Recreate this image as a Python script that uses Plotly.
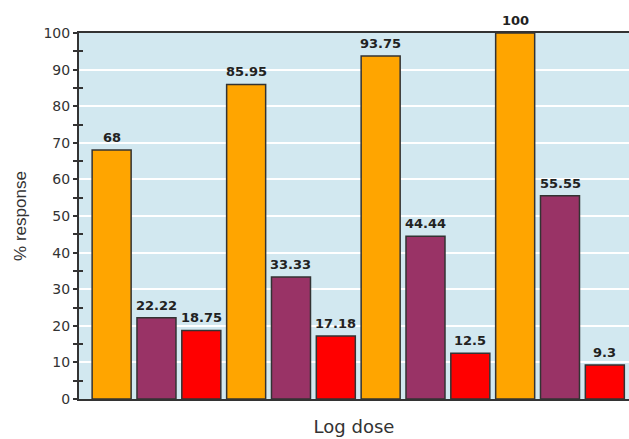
import plotly.graph_objects as go

groups = ["D1", "D2", "D3", "D4"]
series_names = ["Series A", "Series B", "Series C"]
series_values = [
    [68, 85.95, 93.75, 100],
    [22.22, 33.33, 44.44, 55.55],
    [18.75, 17.18, 12.5, 9.3],
]
series_colors = ["#FFA500", "#993366", "#FF0000"]
y_ticks = list(range(0, 101, 10))
y_minor = list(range(5, 100, 10))

fig = go.Figure()
for name, vals, col in zip(series_names, series_values, series_colors):
    fig.add_trace(go.Bar(
        x=groups, y=vals, name=name,
        marker=dict(color=col, line=dict(color="#333333", width=1.5)),
        cliponaxis=False,
    ))

annotations = []
n = len(series_values)
for j, vals in enumerate(series_values):
    for i, v in enumerate(vals):
        annotations.append(dict(
            x=i + (j - (n - 1) / 2) / n, y=v, xref="x", yref="y",
            text=f"<b>{v:g}</b>", showarrow=False, yanchor="bottom", yshift=3,
            font=dict(family="DejaVu Sans", size=13, color="#222222"),
        ))

fig.update_layout(
    width=629, height=439,
    margin=dict(l=79, r=0, t=33, b=40, autoexpand=False),
    paper_bgcolor="white", plot_bgcolor="#D2E8F0",
    barmode="group", bargap=0.0, bargroupgap=0.13,
    showlegend=False,
    annotations=annotations,
    xaxis=dict(
        type="category", range=[-0.576, 3.513], automargin=False,
        showticklabels=False, ticks="", showgrid=False,
        showline=True, linecolor="#333333", linewidth=1.5, mirror=True,
        title=dict(text="Log dose", standoff=21,
                   font=dict(family="DejaVu Sans", size=18, color="#333333")),
    ),
    yaxis=dict(
        range=[0, 100], tickvals=y_ticks, showgrid=True, automargin=False,
        gridcolor="white", gridwidth=1.5, zeroline=False,
        showline=True, linecolor="#333333", linewidth=2,
        ticks="outside", ticklen=4, tickwidth=1.5, tickcolor="#333333",
        tickfont=dict(family="DejaVu Sans", size=14, color="#333333"),
        minor=dict(tickvals=y_minor, ticks="outside", ticklen=4,
                   tickwidth=1.5, tickcolor="#333333", showgrid=False),
        title=dict(text="% response", standoff=13,
                   font=dict(family="Liberation Sans", size=17, color="#333333")),
    ),
    yaxis2=dict(
        overlaying="y", range=[0, 100], tickvals=y_minor, automargin=False,
        showticklabels=False, showgrid=False, zeroline=False,
        ticks="inside", ticklen=4, tickwidth=1.5, tickcolor="#333333",
    ),
)
fig.add_trace(go.Scatter(x=[None], y=[None], yaxis="y2", showlegend=False, hoverinfo="skip"))

fig.write_html("out.html", config={"displayModeBar": False},
               post_script="document.body.style.margin='0';document.body.style.overflow='hidden';")
